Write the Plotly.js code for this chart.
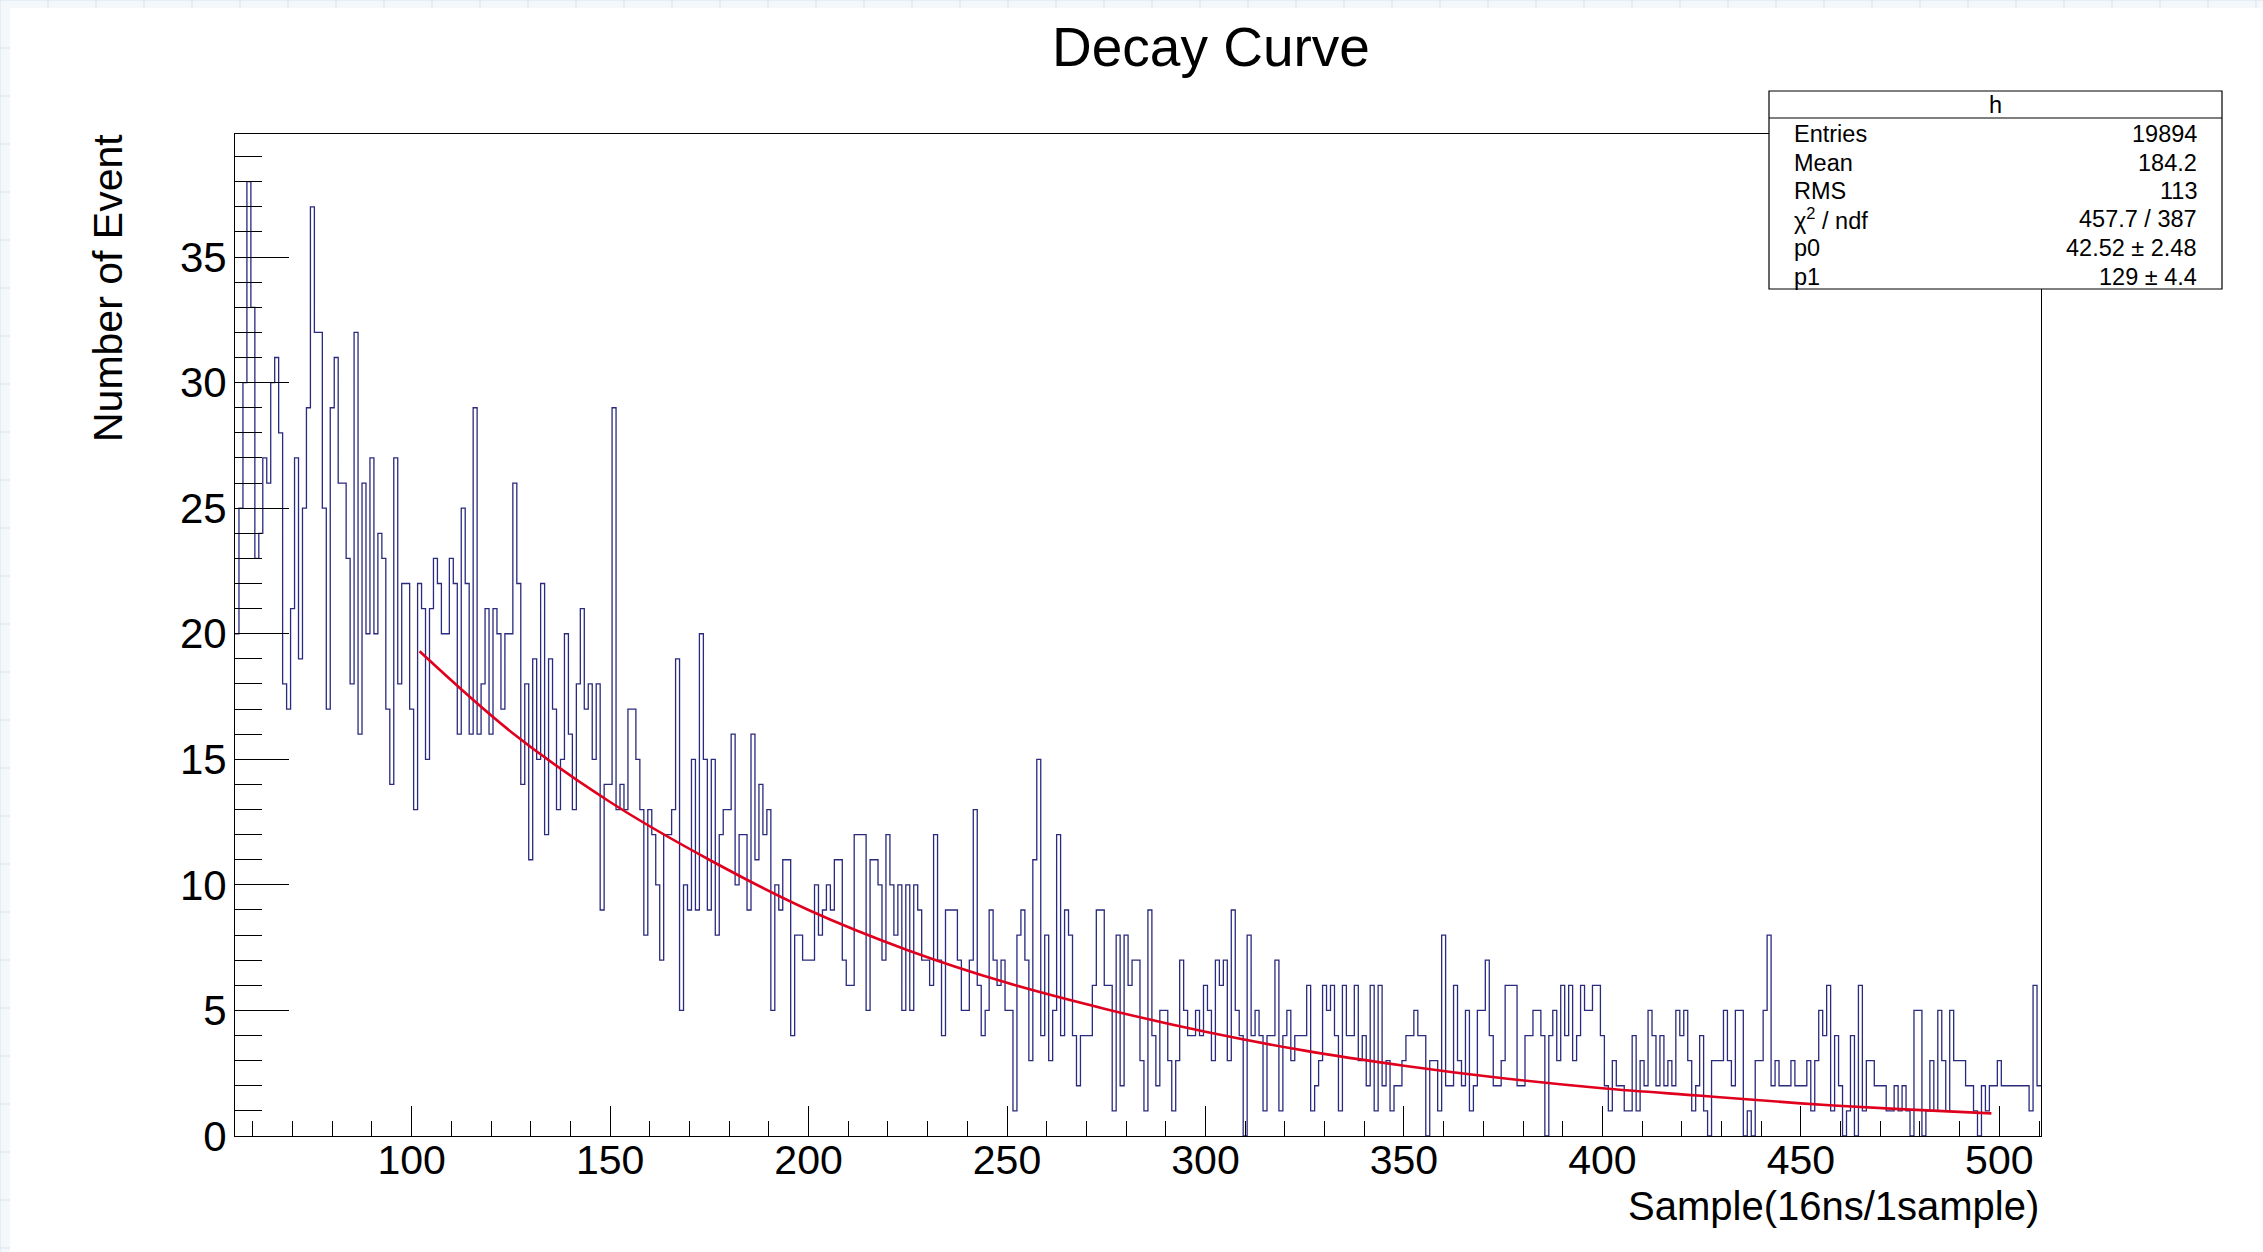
<!DOCTYPE html>
<html>
<head>
<meta charset="utf-8">
<script src="https://cdn.plot.ly/plotly-3.0.1.min.js"></script>
<style>html,body{margin:0;padding:0;background:#fff;} #chart{width:2263px;height:1252px;}</style>
</head>
<body>
<div id="chart"></div>
<script>
// ---- binning of histogram "h" ----
const binStart = 55.5;
const binWidth = 1;

// ---- bin contents (455 bins, 56 .. 510) ----
const counts = [
20,25,30,38,33,23,24,27,26,30,31,28,18,17,21,27,19,25,29,37,32,32,25,17,
29,31,26,26,23,18,32,16,26,20,27,20,24,23,17,14,27,18,22,22,17,13,22,21,15,21,23,22,20,20,23,22,16,25,22,
16,29,16,18,21,16,21,20,17,20,20,26,22,14,18,11,19,15,22,12,19,17,13,15,20,16,13,18,21,17,18,15,18,9,14,14,29,13,14,13,17,17,15,13,8,13,12,10,7,12,12,13,19,5,10,9,15,9,
20,15,9,15,8,12,13,13,16,10,12,12,9,16,11,14,12,13,5,10,9,11,11,4,8,8,7,7,7,10,8,9,10,9,11,11,7,6,6,12,12,12,5,11,11,10,7,12,10,8,10,5,10,5,10,
9,7,7,6,12,7,4,9,9,9,7,5,5,7,13,6,4,5,9,7,6,7,5,5,1,8,9,7,3,11,15,4,8,3,5,12,4,9,8,4,2,4,4,4,6,9,9,6,6,1,8,2,8,6,7,7,3,1,9,4,
2,5,5,3,1,3,7,5,4,4,5,4,6,5,3,7,6,7,3,9,5,4,0,8,4,5,4,1,4,4,7,1,4,5,3,4,4,4,6,1,2,3,6,5,6,4,1,6,4,4,6,3,4,2,6,1,
6,2,3,1,2,2,3,4,4,5,4,4,0,3,3,1,8,2,2,6,3,2,5,1,2,5,5,7,4,2,2,3,6,6,6,2,2,4,4,5,5,4,0,4,5,3,6,4,6,3,4,6,5,5,6,6,4,2,1,
3,2,2,1,1,4,1,3,2,5,4,2,4,2,3,2,5,4,5,3,1,2,4,1,0,3,3,3,5,3,2,5,5,0,1,0,3,3,5,8,2,3,2,2,2,3,2,2,2,3,1,3,5,4,6,1,4,2,
0,1,4,0,6,1,3,3,2,2,2,1,1,2,1,2,1,0,5,5,0,1,3,1,5,3,1,5,3,3,3,2,2,1,0,2,1,2,2,3,2,2,2,2,2,2,2,1,6,2
];

// ---- red fit curve ----
const fitX = [102,125,150,175,200,225,250,275,300,325,350,375,400,425,450,475,498];
const fitY = [19.3,16.1,13.3,11.0,9.0,7.4,6.1,5.05,4.15,3.4,2.8,2.3,1.9,1.6,1.3,1.07,0.9];

// ---- statistics box ----
const statTitle = "h";
const statLabels = ["Entries","Mean","RMS","\u03c7<sup>2</sup> / ndf","p0","p1"];
const statValues = ["19894","184.2","113","457.7 / 387","42.52 \u00b1 2.48","129 \u00b1 4.4"];

// ---- texts ----
const chartTitle = "Decay Curve";
const xTitle = "Sample(16ns/1sample)";
const yTitle = "Number of Event";

// ---- geometry helpers (pixels -> paper coords) ----
const W = 2263, H = 1252, L = 235, R = 222, T = 134, B = 116;
const pw = W - L - R, ph = H - T - B;
const px = x => (x - L) / pw;
const py = y => (H - B - y) / ph;

// step outline of the histogram
const edges = counts.map((c, i) => binStart + i * binWidth);
edges.push(binStart + counts.length * binWidth);
const stepY = counts.concat([counts[counts.length - 1]]);

const FONT = "Liberation Sans, Arial, Helvetica, sans-serif";

const traces = [
  {
    type: "scatter", mode: "lines", x: edges, y: stepY,
    line: {shape: "hv", color: "#2a2a7e", width: 1.3},
    hoverinfo: "skip", showlegend: false
  },
  {
    type: "scatter", mode: "lines", x: fitX, y: fitY,
    line: {shape: "spline", color: "#e0001e", width: 2.6},
    hoverinfo: "skip", showlegend: false
  }
];

const shapes = [];
// page background grid (graph paper around the canvas)
for (let gx = 0; gx <= W; gx += 48) {
  shapes.push({type: "line", xref: "paper", yref: "paper", layer: "below",
    x0: px(gx), x1: px(gx), y0: py(0), y1: py(H), line: {color: "#d6e3ee", width: 1}});
}
for (let gy = 0; gy <= H; gy += 48) {
  shapes.push({type: "line", xref: "paper", yref: "paper", layer: "below",
    x0: px(0), x1: px(W), y0: py(gy), y1: py(gy), line: {color: "#d6e3ee", width: 1}});
}
// white canvas
shapes.push({type: "rect", xref: "paper", yref: "paper", layer: "below",
  x0: px(10), x1: px(W + 5), y0: py(H + 5), y1: py(8), fillcolor: "#ffffff", line: {width: 0}});
// stats box
const bx0 = 1769, bx1 = 2222, by0 = 91, by1 = 289, byh = 118;
shapes.push({type: "rect", xref: "paper", yref: "paper", layer: "above",
  x0: px(bx0), x1: px(bx1), y0: py(by1), y1: py(by0), fillcolor: "#ffffff", line: {color: "#000", width: 1.2}});
shapes.push({type: "line", xref: "paper", yref: "paper", layer: "above",
  x0: px(bx0), x1: px(bx1), y0: py(byh), y1: py(byh), line: {color: "#000", width: 1.2}});

const annotations = [];
annotations.push({text: statTitle, xref: "paper", yref: "paper", x: px((bx0 + bx1) / 2), y: py(105),
  xanchor: "center", yanchor: "middle", showarrow: false, font: {size: 23.5, color: "#000", family: FONT}});
statLabels.forEach((lab, i) => {
  const yy = py(134 + 28.5 * i);
  annotations.push({text: lab, xref: "paper", yref: "paper", x: px(1792), y: yy,
    xanchor: "left", yanchor: "middle", showarrow: false, font: {size: 23.5, color: "#000", family: FONT}});
  annotations.push({text: statValues[i], xref: "paper", yref: "paper", x: px(2199), y: yy,
    xanchor: "right", yanchor: "middle", showarrow: false, font: {size: 23.5, color: "#000", family: FONT}});
});
// axis titles (ROOT style: right / top aligned)
annotations.push({text: xTitle, xref: "paper", yref: "paper", x: px(2041), y: py(1206),
  xanchor: "right", yanchor: "middle", showarrow: false, font: {size: 40, color: "#000", family: FONT}});
annotations.push({text: yTitle, xref: "paper", yref: "paper", x: px(108), y: py(288),
  xanchor: "center", yanchor: "middle", textangle: -90, showarrow: false, font: {size: 41, color: "#000", family: FONT}});

const layout = {
  width: W, height: H,
  margin: {l: L, r: R, t: T, b: B, pad: 0},
  paper_bgcolor: "#f5f8fb",
  plot_bgcolor: "#ffffff",
  font: {family: FONT, color: "#000"},
  showlegend: false,
  title: {text: chartTitle, font: {size: 55, color: "#000", family: FONT},
    xref: "container", yref: "container", x: 1211 / W, y: 1 - 47 / H, xanchor: "center", yanchor: "middle"},
  xaxis: {
    range: [binStart, binStart + counts.length * binWidth],
    showgrid: false, zeroline: false, showline: true, mirror: true,
    linecolor: "#000", linewidth: 1,
    ticks: "inside", ticklen: 30, tickwidth: 1, tickcolor: "#000",
    tick0: 0, dtick: 50,
    minor: {ticks: "inside", ticklen: 15, tickwidth: 1, tickcolor: "#000", tick0: 0, dtick: 10, showgrid: false},
    tickfont: {size: 41, color: "#000", family: FONT},
    ticklabelstandoff: -12
  },
  yaxis: {
    range: [0, 39.9],
    showgrid: false, zeroline: false, showline: true, mirror: true,
    linecolor: "#000", linewidth: 1,
    ticks: "inside", ticklen: 54, tickwidth: 1, tickcolor: "#000",
    tick0: 0, dtick: 5,
    minor: {ticks: "inside", ticklen: 27, tickwidth: 1, tickcolor: "#000", tick0: 0, dtick: 1, showgrid: false},
    tickfont: {size: 42, color: "#000", family: FONT},
    ticklabelstandoff: -1
  },
  shapes: shapes,
  annotations: annotations
};

Plotly.newPlot("chart", traces, layout, {staticPlot: true, displayModeBar: false});
</script>
</body>
</html>
